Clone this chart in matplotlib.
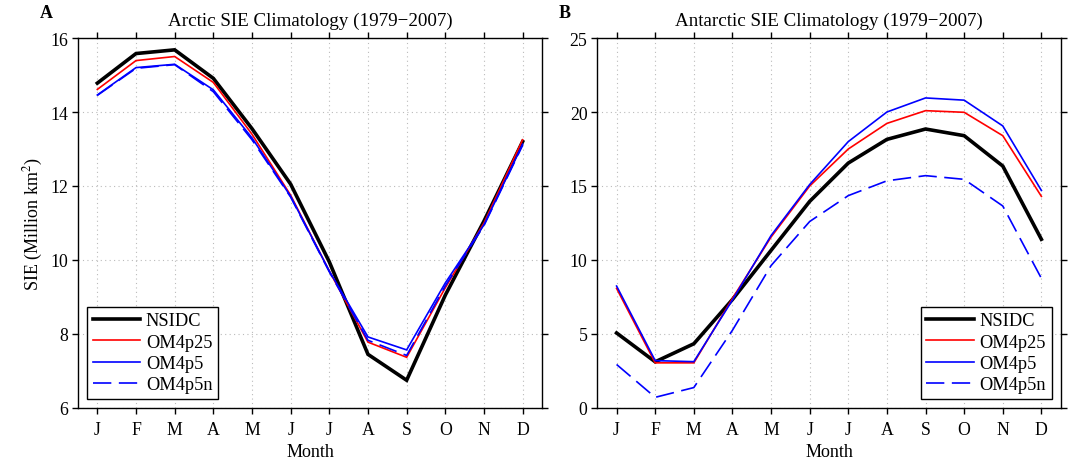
import matplotlib
matplotlib.use("Agg")
import matplotlib.pyplot as plt
import numpy as np

months = ["J", "F", "M", "A", "M", "J", "J", "A", "S", "O", "N", "D"]
series_names = ["NSIDC", "OM4p25", "OM4p5", "OM4p5n"]

arctic_nsidc = [14.78, 15.58, 15.68, 14.91, 13.55, 12.05, 9.95, 7.45, 6.75, 9.05, 11.05, 13.2]
arctic_om4p25 = [14.61, 15.39, 15.50, 14.80, 13.40, 11.75, 9.70, 7.78, 7.37, 9.25, 11.0, 13.25]
arctic_om4p5 = [14.46, 15.20, 15.29, 14.60, 13.30, 11.72, 9.70, 7.92, 7.57, 9.38, 10.95, 13.13]
arctic_om4p5n = [14.45, 15.18, 15.28, 14.55, 13.25, 11.70, 9.68, 7.83, 7.42, 9.30, 10.93, 13.10]

antarctic_nsidc = [5.07, 3.12, 4.34, 7.33, 10.65, 13.96, 16.55, 18.15, 18.85, 18.4, 16.35, 11.4]
antarctic_om4p25 = [8.08, 3.05, 3.05, 7.40, 11.55, 15.0, 17.5, 19.23, 20.09, 19.98, 18.4, 14.3]
antarctic_om4p5 = [8.24, 3.20, 3.13, 7.30, 11.65, 15.1, 18.0, 20.0, 20.95, 20.8, 19.06, 14.7]
antarctic_om4p5n = [2.94, 0.72, 1.38, 5.25, 9.62, 12.6, 14.35, 15.35, 15.7, 15.45, 13.65, 8.76]

plt.rcParams["font.family"] = ["Liberation Serif", "DejaVu Serif"]
plt.rcParams["mathtext.fontset"] = "stix"
TICK_FS = 12.8
LABEL_FS = 13.0
LEG_FS = 13.2
TITLE_FS = 13.7
plt.rcParams["font.size"] = LABEL_FS

fig = plt.figure(figsize=(10.7, 4.6), dpi=100)
axA = fig.add_axes([0.0729, 0.1109, 0.4336, 0.8043])
axB = fig.add_axes([0.5582, 0.1109, 0.4331, 0.8043])

x = np.arange(1, 13)
styles = [
    dict(color="black", lw=2.6, ls="-"),
    dict(color="#ff0000", lw=1.2, ls="-"),
    dict(color="#0000ff", lw=1.2, ls="-"),
    dict(color="#0000ff", lw=1.2, ls=(0, (11, 4.5))),
]

def draw(ax, data, ylim, yticks, title, label, legend_loc):
    for name, d, st in zip(series_names, data, styles):
        ax.plot(x, d, label=name, solid_joinstyle="miter", **st)
    ax.set_xlim(0.5, 12.5)
    ax.set_ylim(*ylim)
    ax.set_xticks(x)
    ax.set_xticklabels(months)
    ax.set_yticks(yticks)
    ax.tick_params(direction="out", top=True, right=True, length=4, width=1,
                   labelsize=TICK_FS)
    ax.tick_params(axis="x", pad=5.5)
    ax.tick_params(axis="y", pad=3)
    ax.grid(True, ls=(0, (1, 3)), color="#bbbbbb", lw=0.8)
    for s in ax.spines.values():
        s.set_linewidth(1.0)
    ax.set_xlabel("Month", fontsize=LABEL_FS, labelpad=3.5)
    ax.set_title(title, fontsize=TITLE_FS, pad=9.5)
    ax.text(-0.083, 1.045, label, transform=ax.transAxes, fontweight="bold",
            fontsize=LABEL_FS, ha="left", va="bottom")
    leg = ax.legend(loc=legend_loc, fontsize=LEG_FS, handlelength=2.6,
                    fancybox=False, framealpha=1, edgecolor="black",
                    borderpad=0.3, labelspacing=0.24, handletextpad=0.3,
                    borderaxespad=0.5)
    leg.get_frame().set_linewidth(1.0)

draw(axA, [arctic_nsidc, arctic_om4p25, arctic_om4p5, arctic_om4p5n],
     (6, 16), [6, 8, 10, 12, 14, 16], "Arctic SIE Climatology (1979\u22122007)", "A",
     "lower left")
axA.set_ylabel("SIE (Million km$^2$)", fontsize=LABEL_FS, labelpad=4)

draw(axB, [antarctic_nsidc, antarctic_om4p25, antarctic_om4p5, antarctic_om4p5n],
     (0, 25), [0, 5, 10, 15, 20, 25], "Antarctic SIE Climatology (1979\u22122007)", "B",
     "lower right")

fig.savefig("out.png", dpi=100)
